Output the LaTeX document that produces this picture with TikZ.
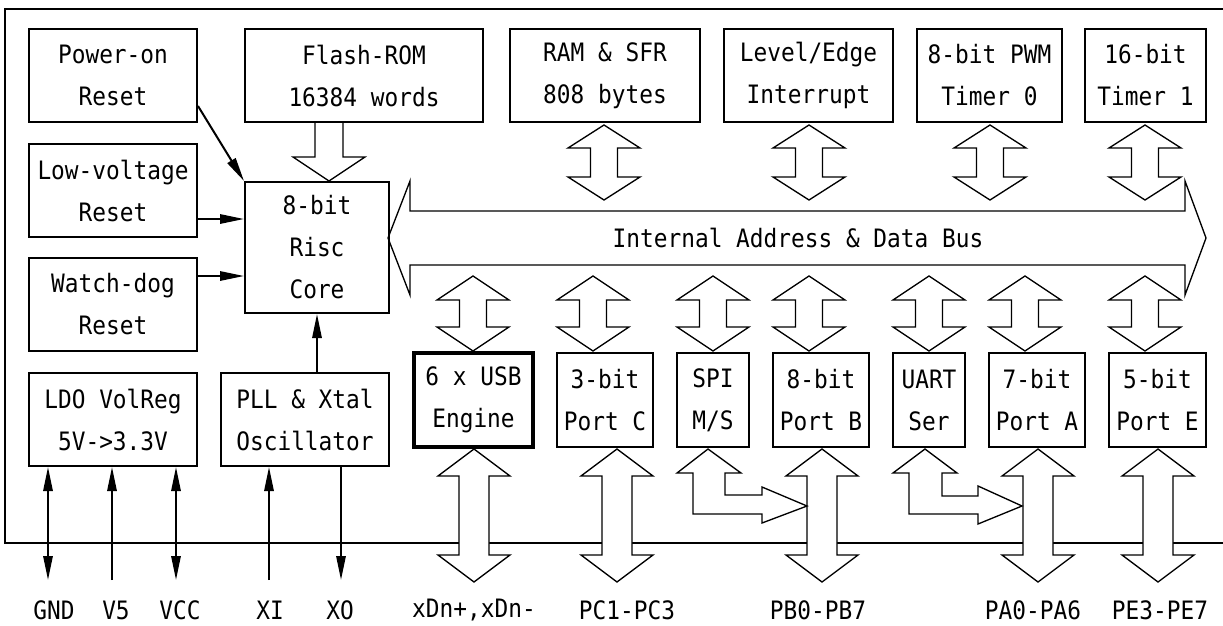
\documentclass[tikz,border=0pt]{standalone}
\usepackage{fontspec}
\newfontfamily\dvm[FakeStretch=0.9]{DejaVu Sans Mono}
\newcommand\txtfont{\dvm\fontsize{19}{31.5}\selectfont}
\usetikzlibrary{arrows.meta,calc}
% #1 options, #2 name, #3 x1, #4 y1, #5 x2, #6 y2, #7 text
\newcommand\mkbox[7]{\node[box,#1,minimum width={(#5-#3)*0.75pt},minimum height={(#6-#4)*0.75pt}] (#2) at ({(#3+#5)/2},{(#4+#6)/2}) {#7};}
% vertical double block arrow: #1 x, #2 top tip y, #3 bottom tip y, #4 head length, #5 head half width, #6 shaft half width
\newcommand\dblarrow[6]{\draw[blk] (#1,#2) -- (#1+#5,#2+#4) -- (#1+#6,#2+#4) -- (#1+#6,#3-#4) -- (#1+#5,#3-#4) -- (#1,#3) -- (#1-#5,#3-#4) -- (#1-#6,#3-#4) -- (#1-#6,#2+#4) -- (#1-#5,#2+#4) -- cycle;}
\begin{document}
\begin{tikzpicture}[x=0.75pt,y=-0.75pt,
  box/.style={draw,line width=1.5pt,inner sep=0pt,align=center,font=\txtfont},
  lbl/.style={inner sep=0pt,font=\txtfont},
  tip/.tip={Triangle[length=18pt,width=7pt]},
  sig/.style={line width=1.5pt,-tip},
  sigboth/.style={line width=1.5pt,tip-tip},
  blk/.style={draw,line width=1pt,fill=white,line join=miter},
]
\useasboundingbox (0,0) rectangle (1223,625);
\fill[white] (0,0) rectangle (1223,625);

% outer frame
\draw[line width=1.5pt] (1223,9) -- (4.5,9) -- (4.5,543) -- (1223,543);

% internal bus
\draw[blk] (388,238) -- (410,181) -- (410,211) -- (1185,211) -- (1185,181) -- (1206,238) -- (1185,295) -- (1185,265) -- (410,265) -- (410,295) -- cycle;
\node[lbl] (bus) at (798,238) {Internal Address \& Data Bus};

% top row bus arrows
\dblarrow{604}{125}{200}{23}{36}{13.5}
\dblarrow{809}{125}{200}{23}{36}{13.5}
\dblarrow{990}{125}{200}{23}{36}{13.5}
\dblarrow{1145}{125}{200}{23}{36}{13.5}

% lower row bus arrows
\dblarrow{473}{276}{351}{24}{36}{13.5}
\dblarrow{593}{276}{351}{24}{36}{13.5}
\dblarrow{713}{276}{351}{24}{36}{13.5}
\dblarrow{809}{276}{351}{24}{36}{13.5}
\dblarrow{929}{276}{351}{24}{36}{13.5}
\dblarrow{1025}{276}{351}{24}{36}{13.5}
\dblarrow{1145}{276}{351}{24}{36}{13.5}

% pin arrows
\dblarrow{474}{449}{582}{27}{36}{15}
\dblarrow{617}{449}{582}{27}{36}{15}
\dblarrow{822}{449}{582}{27}{36}{15}
\dblarrow{1038}{449}{582}{27}{36}{15}
\dblarrow{1158}{449}{582}{27}{36}{15}

% SPI and UART routing arrows
\draw[blk] (708,449) -- (741,473) -- (725,473) -- (725,495) -- (762,495) -- (762,487) -- (807,506) -- (762,523) -- (762,514) -- (693,514) -- (693,473) -- (677,473) -- cycle;
\draw[blk] (925,449) -- (957,473) -- (942,473) -- (942,496) -- (978,496) -- (978,486) -- (1022,506) -- (978,524) -- (978,514) -- (909,514) -- (909,473) -- (893,473) -- cycle;

% flash to core arrow
\draw[blk] (315,123) -- (315,157) -- (293,157) -- (329,181) -- (365,157) -- (343,157) -- (343,123);

% boxes
\mkbox{}{por}{29}{29}{197}{122}{Power-on\\Reset}
\mkbox{}{lv}{29}{144}{197}{237}{Low-voltage\\Reset}
\mkbox{}{wd}{29}{258}{197}{351}{Watch-dog\\Reset}
\mkbox{}{ldo}{29}{373}{197}{466}{LDO VolReg\\5V->3.3V}
\mkbox{}{pll}{221}{373}{389}{466}{PLL \& Xtal\\Oscillator}
\mkbox{}{core}{245}{182}{389}{313}{8-bit\\Risc\\Core}
\mkbox{}{flash}{245}{29}{483}{122}{Flash-ROM\\16384 words}
\mkbox{}{ram}{510}{29}{700}{122}{RAM \& SFR\\808 bytes}
\mkbox{}{lev}{724}{29}{893}{122}{Level/Edge\\Interrupt}
\mkbox{}{pwm}{917}{29}{1062}{122}{8-bit PWM\\Timer 0}
\mkbox{}{tone}{1085}{29}{1206}{122}{16-bit\\Timer 1}
\mkbox{line width=3pt}{usb}{414}{353}{533}{447}{6 x USB\\Engine}
\mkbox{}{pc}{557}{353}{653}{447}{3-bit\\Port C}
\mkbox{}{spi}{677}{353}{749}{447}{SPI\\M/S}
\mkbox{}{pb}{773}{353}{869}{447}{8-bit\\Port B}
\mkbox{}{uart}{893}{353}{965}{447}{UART\\Ser}
\mkbox{}{pa}{989}{353}{1085}{447}{7-bit\\Port A}
\mkbox{}{pe}{1109}{353}{1206}{447}{5-bit\\Port E}

% core inputs
\coordinate (ylv) at (0,219);
\coordinate (ywd) at (0,276);
\draw[sig] ($(por.south east)+(0,-17)$) -- (core.north west);
\draw[sig] (lv.east |- ylv) -- (core.west |- ylv);
\draw[sig] (wd.east |- ywd) -- (core.west |- ywd);
\draw[sig] (pll.north -| core.south) -- (core.south);

% pins
\coordinate (gndp) at (48,580);
\coordinate (vfp) at (112,580);
\coordinate (vccp) at (176,580);
\coordinate (xip) at (269,580);
\coordinate (xop) at (341,580);
\draw[sigboth] (ldo.south -| gndp) -- (gndp);
\draw[sig] (vfp) -- (ldo.south -| vfp);
\draw[sigboth] (ldo.south -| vccp) -- (vccp);
\draw[sig] (xip) -- (pll.south -| xip);
\draw[sig] (pll.south -| xop) -- (xop);

% labels
\node[lbl] (lgnd) at (54,610) {GND};
\node[lbl] (lvf) at (116,610) {V5};
\node[lbl] (lvcc) at (180,610) {VCC};
\node[lbl] (lxi) at (270,610) {XI};
\node[lbl] (lxo) at (340,610) {XO};
\node[lbl] (lusb) at (474,610) {xDn+,xDn-};
\node[lbl] (lpc) at (627,610) {PC1-PC3};
\node[lbl] (lpb) at (818,610) {PB0-PB7};
\node[lbl] (lpa) at (1033,610) {PA0-PA6};
\node[lbl] (lpe) at (1160,610) {PE3-PE7};
\end{tikzpicture}
\end{document}
